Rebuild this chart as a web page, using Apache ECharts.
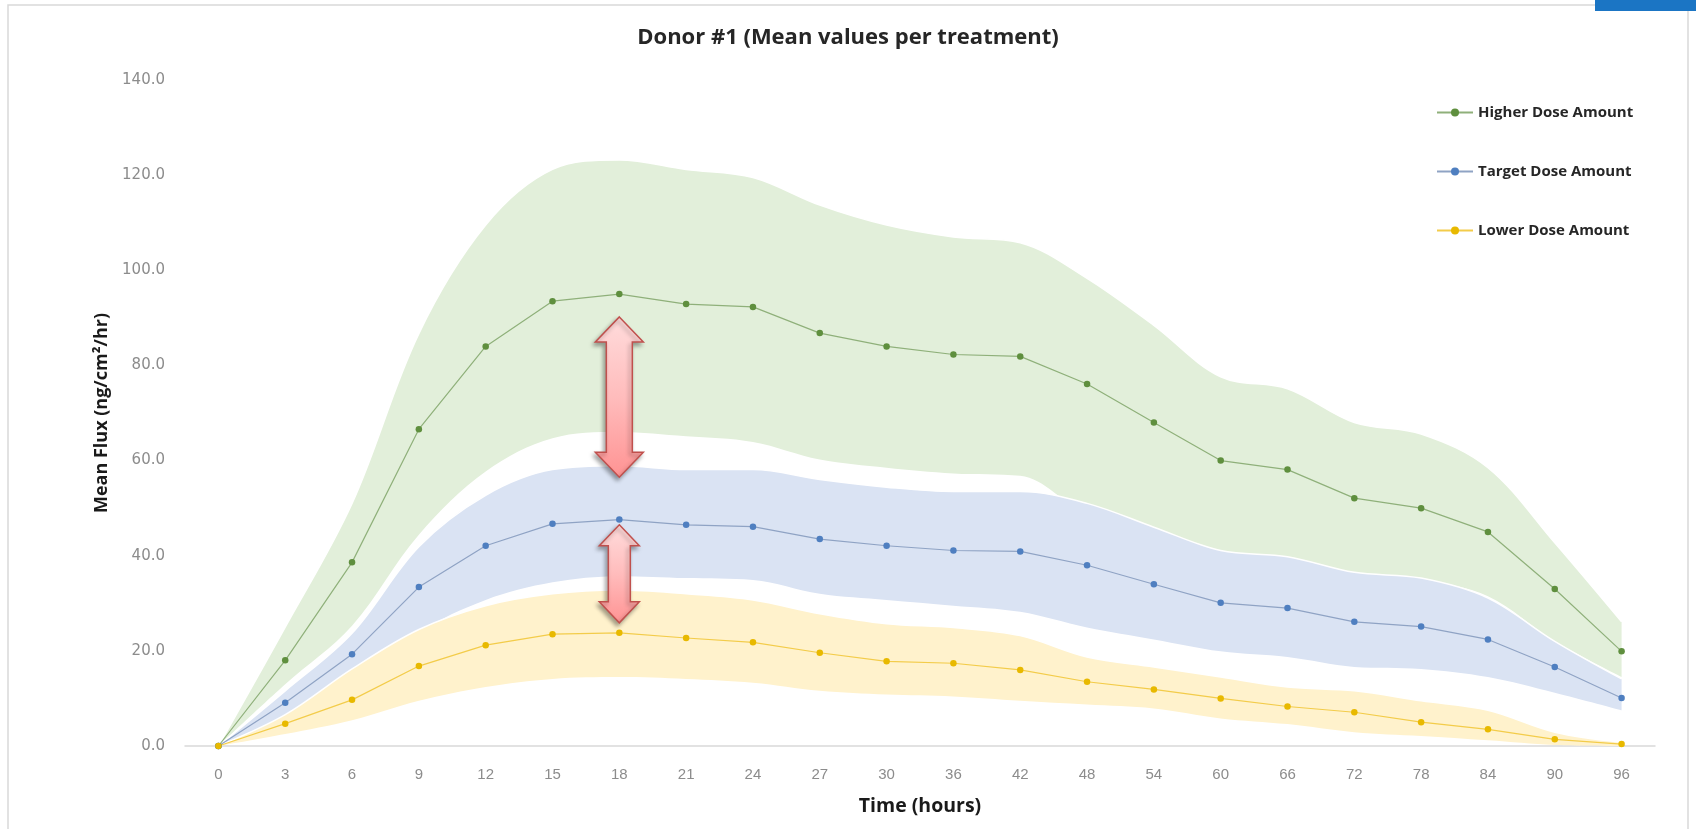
<!DOCTYPE html>
<html>
<head>
<meta charset="utf-8">
<script src="https://cdn.jsdelivr.net/npm/echarts@6/dist/echarts.min.js"></script>
<style>
html,body{margin:0;padding:0;background:#fff;}
#chart{width:1696px;height:829px;}
</style>
</head>
<body>
<div id="chart"></div>
<script>
const categories = ['0','3','6','9','12','15','18','21','24','27','30','36','42','48','54','60','66','72','78','84','90','96'];
const yTicks = [0, 20, 40, 60, 80, 100, 120, 140];

const higher      = [0, 18.0, 38.6, 66.6, 84.0, 93.5, 95.0, 92.9, 92.3, 86.8, 84.0, 82.3, 81.9, 76.1, 68.0, 60.0, 58.1, 52.1, 50.0, 45.0, 33.0, 19.9];
const higherUpper = [0, 25.0, 51.0, 86.7, 109.5, 121.2, 123.2, 121.2, 119.5, 113.7, 109.5, 107.0, 105.8, 98.3, 88.4, 77.6, 75.1, 68.0, 65.6, 58.5, 42.7, 26.1];
const higherLower = [0, 13.0, 25.3, 44.4, 57.7, 64.7, 66.0, 65.1, 63.9, 60.2, 58.5, 57.3, 56.8, 48.5, 43.6, 40.7, 39.4, 36.1, 34.9, 31.5, 22.0, 14.5];

const target      = [0, 9.1, 19.3, 33.4, 42.1, 46.7, 47.6, 46.5, 46.1, 43.5, 42.1, 41.1, 40.9, 38.0, 34.0, 30.1, 29.0, 26.1, 25.1, 22.4, 16.6, 10.1];
const targetUpper = [0, 11.6, 23.7, 41.9, 52.7, 58.1, 58.9, 58.1, 58.1, 56.0, 54.4, 53.5, 53.5, 51.0, 46.0, 41.1, 39.8, 36.5, 35.3, 31.1, 22.0, 14.1];
const targetLower = [0, 5.4, 14.1, 24.0, 30.7, 34.4, 35.7, 35.3, 34.9, 32.0, 30.7, 29.5, 28.2, 24.9, 22.4, 19.9, 18.7, 16.6, 16.2, 14.5, 11.2, 7.5];

const lower       = [0, 4.7, 9.7, 16.8, 21.2, 23.5, 23.8, 22.7, 21.8, 19.6, 17.8, 17.4, 16.0, 13.5, 11.9, 10.0, 8.3, 7.1, 5.0, 3.5, 1.4, 0.4];
const lowerUpper  = [0, 6.6, 16.2, 24.5, 29.5, 32.0, 32.8, 32.0, 30.7, 27.8, 25.7, 24.9, 23.2, 18.7, 16.6, 14.5, 12.4, 11.6, 9.5, 7.5, 2.9, 0.8];
const lowerLower  = [0, 2.5, 5.4, 9.5, 12.4, 14.1, 14.5, 14.1, 13.3, 11.6, 10.8, 10.4, 9.5, 8.7, 7.9, 5.8, 4.6, 2.9, 2.1, 1.2, 0.2, 0];

// annotation arrows: [category, top value, bottom value]
const arrowCats   = ['18', '18'];
const arrowTops   = [90.2, 46.5];
const arrowBottoms= [56.5, 25.9];

const seriesNames = ['Higher Dose Amount', 'Target Dose Amount', 'Lower Dose Amount'];

function bandSeries(stackId, lo, hi, color, z) {
  return [
    {
      type: 'line', stack: stackId, data: lo, symbol: 'none', smooth: 0.35,
      lineStyle: { width: 0, opacity: 0 }, areaStyle: { opacity: 0 },
      silent: true, z: z, legendHoverLink: false
    },
    {
      type: 'line', stack: stackId, data: hi.map((v, i) => +(v - lo[i]).toFixed(2)),
      symbol: 'none', smooth: 0.35,
      lineStyle: { width: 1.5, color: '#ffffff' },
      areaStyle: { color: color, opacity: 1 },
      silent: true, z: z
    }
  ];
}

function meanSeries(name, data, lineColor, markColor) {
  return {
    name: name, type: 'line', data: data, z: 10,
    symbol: 'circle', symbolSize: 6.5,
    lineStyle: { width: 1.2, color: lineColor },
    itemStyle: { color: markColor, borderWidth: 0 }
  };
}

const arrowData = arrowCats.map((c, i) => [c, arrowTops[i], arrowBottoms[i]]);

const chart = echarts.init(document.getElementById('chart'), null, { renderer: 'canvas' });
const option = {
  backgroundColor: '#ffffff',
  animation: false,
  title: {
    text: 'Donor #1 (Mean values per treatment)',
    left: 'center', top: 22,
    textStyle: { fontFamily: 'Open Sans', fontWeight: 'bold', fontSize: 22, color: '#262626' }
  },
  legend: {
    data: seriesNames,
    orient: 'vertical',
    left: 1431, top: 100,
    itemWidth: 36, itemHeight: 10, itemGap: 44,
    textStyle: { fontFamily: 'Open Sans', fontWeight: 'bold', fontSize: 15, color: '#262626' }
  },
  grid: { left: 185, right: 41, top: 80, bottom: 83 },
  xAxis: {
    type: 'category', data: categories, boundaryGap: true,
    name: 'Time (hours)', nameLocation: 'middle', nameGap: 50,
    nameTextStyle: { fontFamily: 'Open Sans', fontWeight: 'bold', fontSize: 19.5, color: '#1a1a1a' },
    axisLine: { show: true, lineStyle: { color: '#d9d9d9', width: 1.5 } },
    axisTick: { show: false },
    axisLabel: { margin: 21, fontFamily: 'Liberation Sans', fontSize: 15, color: '#8c8c8c' },
    splitLine: { show: false }
  },
  yAxis: {
    type: 'value', min: yTicks[0], max: yTicks[yTicks.length - 1], interval: 20,
    name: 'Mean Flux (ng/cm²/hr)', nameLocation: 'middle', nameGap: 72, nameRotate: 90,
    nameTextStyle: { fontFamily: 'Open Sans', fontWeight: 'bold', fontSize: 18, color: '#1a1a1a' },
    axisLine: { show: false }, axisTick: { show: false },
    splitLine: { show: false },
    axisLabel: { margin: 20, fontFamily: 'DejaVu Sans', fontSize: 15, color: '#8c8c8c',
      formatter: v => v.toFixed(1) }
  },
  graphic: [
    { type: 'rect', shape: { x: 8, y: 5, width: 1680, height: 840 }, style: { fill: 'none', stroke: '#d9d9d9', lineWidth: 1.5 }, z: -10, silent: true },
    { type: 'rect', shape: { x: 1595, y: 0, width: 101, height: 11 }, style: { fill: '#1b75c4' }, z: 100, silent: true }
  ],
  series: [
    ...bandSeries('g', higherLower, higherUpper, '#e2efda', 1),
    ...bandSeries('b', targetLower, targetUpper, '#dae3f3', 2),
    ...bandSeries('y', lowerLower, lowerUpper, '#fff2cc', 3),
    meanSeries(seriesNames[0], higher, '#8fb07a', '#5f8f3e'),
    meanSeries(seriesNames[1], target, '#8fa3c4', '#4f7fc0'),
    meanSeries(seriesNames[2], lower, '#f3cc4a', '#e8b900'),
    {
      type: 'custom', z: 20, silent: true,
      data: arrowData,
      encode: { x: 0, y: [1, 2] },
      renderItem: function (params, api) {
        const top = api.coord([api.value(0), api.value(1)]);
        const bot = api.coord([api.value(0), api.value(2)]);
        const big = (bot[1] - top[1]) > 120;
        const hw = big ? 24 : 20, hh = big ? 25 : 21, sw = big ? 13 : 11;
        const cx = top[0], yt = top[1], yb = bot[1];
        const pts = [
          [cx, yt], [cx + hw, yt + hh], [cx + sw, yt + hh], [cx + sw, yb - hh], [cx + hw, yb - hh],
          [cx, yb], [cx - hw, yb - hh], [cx - sw, yb - hh], [cx - sw, yt + hh], [cx - hw, yt + hh]
        ];
        return {
          type: 'polygon',
          shape: { points: pts },
          style: {
            fill: new echarts.graphic.LinearGradient(0, 0, 0, 1, [
              { offset: 0, color: '#ffdcdc' },
              { offset: 0.5, color: '#ffbcbc' },
              { offset: 1, color: '#ff9393' }
            ]),
            stroke: '#c0504d', lineWidth: 1.5,
            shadowBlur: 4, shadowOffsetX: -2, shadowOffsetY: 3, shadowColor: 'rgba(0,0,0,0.35)'
          }
        };
      }
    }
  ]
};
chart.setOption(option);
</script>
</body>
</html>
